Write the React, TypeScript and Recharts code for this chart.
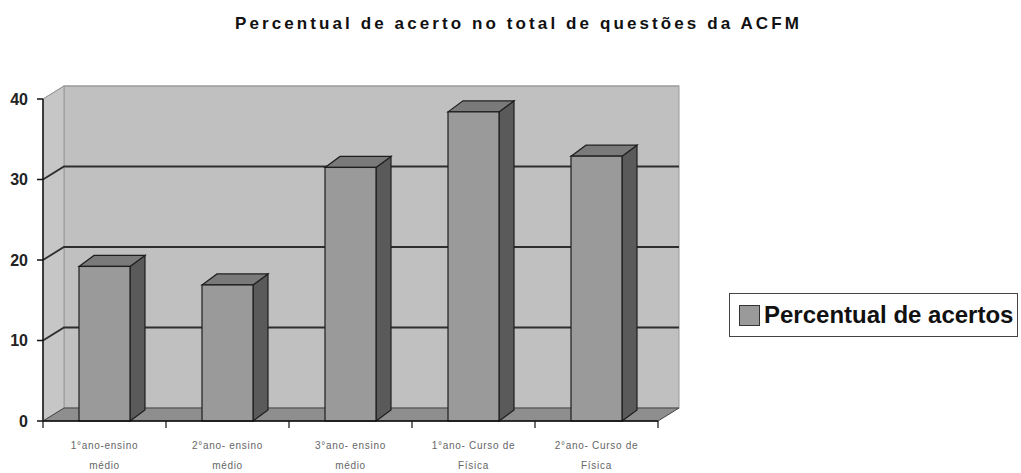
import React from 'react';
import { BarChart, Bar, XAxis, YAxis, CartesianGrid, Legend, ReferenceArea } from 'recharts';

const title = 'Percentual de acerto no total de questões da ACFM';
const seriesName = 'Percentual de acertos';
const categories = [
  '1°ano-ensino médio',
  '2°ano- ensino médio',
  '3°ano- ensino médio',
  '1°ano- Curso de Física',
  '2°ano- Curso de Física',
];
const labelLine1 = ['1°ano-ensino', '2°ano- ensino', '3°ano- ensino', '1°ano- Curso de', '2°ano- Curso de'];
const labelLine2 = ['médio', 'médio', 'médio', 'Física', 'Física'];
const values = [19.2, 16.9, 31.5, 38.4, 32.9];
const yTicks = [0, 10, 20, 30, 40];

const data = categories.map((c, i) => ({ cat: c, value: values[i] }));

const FONT = '"Liberation Sans", Arial, sans-serif';
const WALL_DX = 21;
const WALL_DY = -13;
const BAR_DX = 15;
const BAR_DY = -11;
const LEGEND_W = 289;

const Walls = (props: any) => {
  const { x, y, width, height } = props;
  const bx = x + WALL_DX;
  const by = y + WALL_DY;
  return (
    <g>
      <rect x={bx} y={by} width={width} height={height} fill="#c0c0c0" stroke="#9a9a9a" strokeWidth={1} />
      <polygon
        points={`${x},${y} ${bx},${by} ${bx},${by + height} ${x},${y + height}`}
        fill="#c6c6c6"
        stroke="#9a9a9a"
        strokeWidth={1}
      />
      <polygon
        points={`${x},${y + height} ${bx},${by + height} ${bx + width},${by + height} ${x + width},${y + height}`}
        fill="#8e8e8e"
        stroke="#444"
        strokeWidth={1}
      />
    </g>
  );
};

const GridLine = (props: any) => {
  const { x1, y1, x2, index } = props;
  const edge = index === 0 || index === yTicks.length - 1;
  if (index === 0) return <g key={props.key} />;
  return (
    <path
      key={props.key}
      d={`M${x1},${y1} L${x1 + WALL_DX},${y1 + WALL_DY} L${x2 + WALL_DX},${y1 + WALL_DY}`}
      fill="none"
      stroke={edge ? '#9a9a9a' : '#2e2e2e'}
      strokeWidth={edge ? 1 : 1.8}
    />
  );
};

const Bar3D = (props: any) => {
  const { x, y, width, height } = props;
  if (height == null || width == null) return null;
  const r = x + width;
  const b = y + height;
  return (
    <g>
      <polygon
        points={`${r},${y} ${r + BAR_DX},${y + BAR_DY} ${r + BAR_DX},${b + BAR_DY} ${r},${b}`}
        fill="#5a5a5a"
        stroke="#1e1e1e"
        strokeWidth={1.2}
      />
      <polygon
        points={`${x},${y} ${x + BAR_DX},${y + BAR_DY} ${r + BAR_DX},${y + BAR_DY} ${r},${y}`}
        fill="#7a7a7a"
        stroke="#1e1e1e"
        strokeWidth={1.2}
      />
      <rect x={x} y={y} width={width} height={height} fill="#9a9a9a" stroke="#1e1e1e" strokeWidth={1.2} />
    </g>
  );
};

const XTick = (props: any) => {
  const { x, y, payload, index } = props;
  const i = categories.indexOf(payload.value);
  const off = payload.offset || 0;
  const last = index === categories.length - 1;
  return (
    <g>
      <line x1={x - off} y1={y - 8} x2={x - off} y2={y - 1} stroke="#111" strokeWidth={1.2} />
      {last && <line x1={x + off} y1={y - 8} x2={x + off} y2={y - 1} stroke="#111" strokeWidth={1.2} />}
      <text x={x} y={y + 20} textAnchor="middle" fontSize={10} letterSpacing={0.7} fill="#666" fontFamily={FONT}>
        {labelLine1[i]}
      </text>
      <text x={x} y={y + 40} textAnchor="middle" fontSize={10} letterSpacing={0.7} fill="#666" fontFamily={FONT}>
        {labelLine2[i]}
      </text>
    </g>
  );
};

const LegendBox = () => (
  <div
    style={{
      boxSizing: 'border-box',
      width: LEGEND_W,
      height: 44,
      border: '1.5px solid #444',
      background: '#fff',
      display: 'flex',
      alignItems: 'center',
      paddingLeft: 9,
      fontFamily: FONT,
    }}
  >
    <span
      style={{
        display: 'inline-block',
        width: 19,
        height: 19,
        background: '#9a9a9a',
        border: '1.5px solid #333',
        marginRight: 4,
      }}
    />
    <span style={{ fontSize: 24, fontWeight: 'bold', color: '#111', whiteSpace: 'nowrap' }}>{seriesName}</span>
  </div>
);

export default function App() {
  return (
    <div style={{ position: 'absolute', left: 0, top: 0, width: 1021, height: 473, background: '#fff' }}>
      <div
        style={{
          position: 'absolute',
          left: 235,
          top: 14,
          fontFamily: FONT,
          fontWeight: 'bold',
          fontSize: 17,
          letterSpacing: 3.1,
          color: '#111',
          whiteSpace: 'nowrap',
          zIndex: 2,
        }}
      >
        {title}
      </div>
      <BarChart
        width={1021}
        height={473}
        data={data}
        margin={{ top: 99, right: 363 - LEGEND_W, left: 0, bottom: 0 }}
        barSize={51}
      >
        <ReferenceArea y1={0} y2={40} shape={<Walls />} ifOverflow="visible" zIndex={-200} />
        <CartesianGrid vertical={false} horizontal={GridLine} />
        <XAxis
          dataKey="cat"
          height={52}
          tick={<XTick />}
          tickLine={false}
          axisLine={{ stroke: '#111', strokeWidth: 1.5 }}
          interval={0}
        />
        <YAxis
          width={43}
          domain={[0, 40]}
          ticks={yTicks}
          tickSize={6}
          tickMargin={9}
          tickLine={{ stroke: '#111', strokeWidth: 1.5 }}
          axisLine={{ stroke: '#111', strokeWidth: 1.5 }}
          tick={{ fontSize: 16, fontWeight: 'bold', fill: '#222', fontFamily: FONT }}
        />
        <Legend
          layout="horizontal"
          verticalAlign="middle"
          align="right"
          content={() => <LegendBox />}
          wrapperStyle={{ position: 'absolute', left: 729, top: 293, width: LEGEND_W, height: 44 }}
        />
        <Bar dataKey="value" name={seriesName} shape={<Bar3D />} isAnimationActive={false} />
      </BarChart>
    </div>
  );
}
